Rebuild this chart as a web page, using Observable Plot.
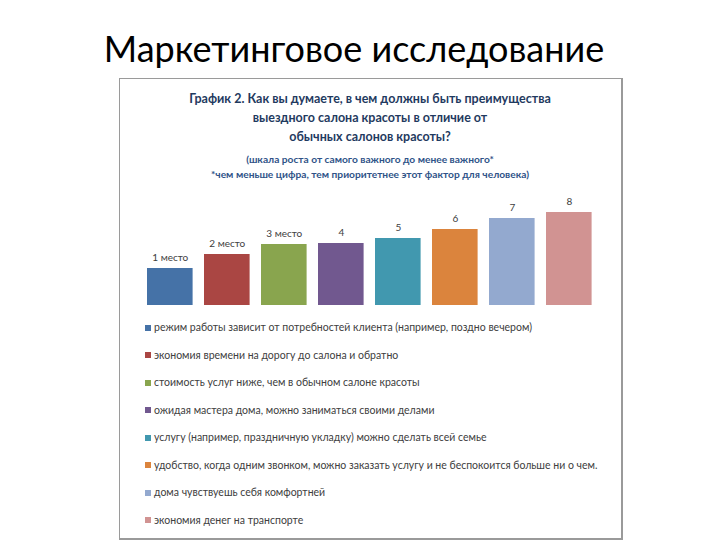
<!DOCTYPE html>
<html>
<head>
<meta charset="utf-8">
<script src="https://cdn.jsdelivr.net/npm/d3@7"></script>
<script src="https://cdn.jsdelivr.net/npm/@observablehq/plot@0.6"></script>
<style>
  html, body { margin: 0; padding: 0; background: #fff; }
  body { width: 720px; height: 540px; position: relative; overflow: hidden; font-family: Lato, "Open Sans", sans-serif; }
  #page-title { position: absolute; left: -6px; width: 720px; top: 24px; text-align: center; font-size: 36px; color: #000; line-height: 48px; }
  #box { position: absolute; left: 119px; top: 78px; width: 504px; height: 462px; box-sizing: border-box; border: 1px solid #8a8a8a; border-bottom-width: 2px; border-right-width: 2px; border-color: #9a9a9a; }
  #chart-title { position: absolute; left: 120px; width: 500px; top: 89px; text-align: center; font-weight: bold; font-size: 12.5px; line-height: 19px; color: #1f3a60; }
  #chart-sub { position: absolute; left: 120px; width: 500px; top: 152px; text-align: center; font-weight: bold; font-size: 10.2px; line-height: 15px; color: #2f5388; }
  #plot { position: absolute; left: 0; top: 180px; }
  #legend { position: absolute; left: 145px; top: 314px; }
  .row { height: 27.5px; line-height: 27.5px; font-size: 10.5px; color: #404040; white-space: nowrap; display: flex; align-items: center; }
  .sw { width: 6px; height: 6px; margin-right: 3px; flex: none; }
</style>
</head>
<body>
<div id="page-title">Маркетинговое исследование</div>
<div id="box"></div>
<div id="chart-title">График 2. Как вы думаете, в чем должны быть преимущества<br>выездного салона красоты в отличие от<br>обычных салонов красоты?</div>
<div id="chart-sub">(шкала роста от самого важного до менее важного*<br>*чем меньше цифра, тем приоритетнее этот фактор для человека)</div>
<div id="plot"></div>
<div id="legend"></div>
<script>
const places = ["1 место", "2 место", "3 место", "4", "5", "6", "7", "8"];
const factors = [
  "режим работы зависит от потребностей клиента (например, поздно вечером)",
  "экономия времени на дорогу до салона и обратно",
  "стоимость услуг ниже, чем в обычном салоне красоты",
  "ожидая мастера дома, можно заниматься своими делами",
  "услугу (например, праздничную укладку) можно сделать всей семье",
  "удобство, когда одним звонком, можно заказать услугу и не беспокоится больше ни о чем.",
  "дома чувствуешь себя комфортней",
  "экономия денег на транспорте"
];
const heights = [3.7, 5.1, 6.1, 6.2, 6.7, 7.6, 8.7, 9.3];
const colors = ["#4572A7", "#AA4643", "#89A54E", "#71588F", "#4198AF", "#DB843D", "#93A9CF", "#D19392"];

const data = places.map((p, i) => ({place: p, factor: factors[i], value: heights[i]}));

const chart = Plot.plot({
  width: 720,
  height: 135,
  marginLeft: 135.6,
  marginRight: 117,
  marginTop: 0,
  marginBottom: 10,
  style: {fontFamily: "Lato, sans-serif", background: "transparent"},
  x: {domain: places, padding: 0.2, round: false, axis: null},
  y: {domain: [0, 12.5], axis: null},
  color: {domain: factors, range: colors},
  marks: [
    Plot.barY(data, {x: "place", y: "value", fill: "factor"}),
    Plot.text(data, {x: "place", y: "value", text: "place", dy: -11, fontSize: 10, fill: "#404040"})
  ]
});
document.getElementById("plot").appendChild(chart);

const cs = chart.scale("color");
const legend = document.getElementById("legend");
cs.domain.forEach((f, i) => {
  const row = document.createElement("div");
  row.className = "row";
  const sw = document.createElement("span");
  sw.className = "sw";
  sw.style.background = cs.range[i];
  const t = document.createElement("span");
  t.textContent = f;
  row.appendChild(sw);
  row.appendChild(t);
  legend.appendChild(row);
});
</script>
</body>
</html>
